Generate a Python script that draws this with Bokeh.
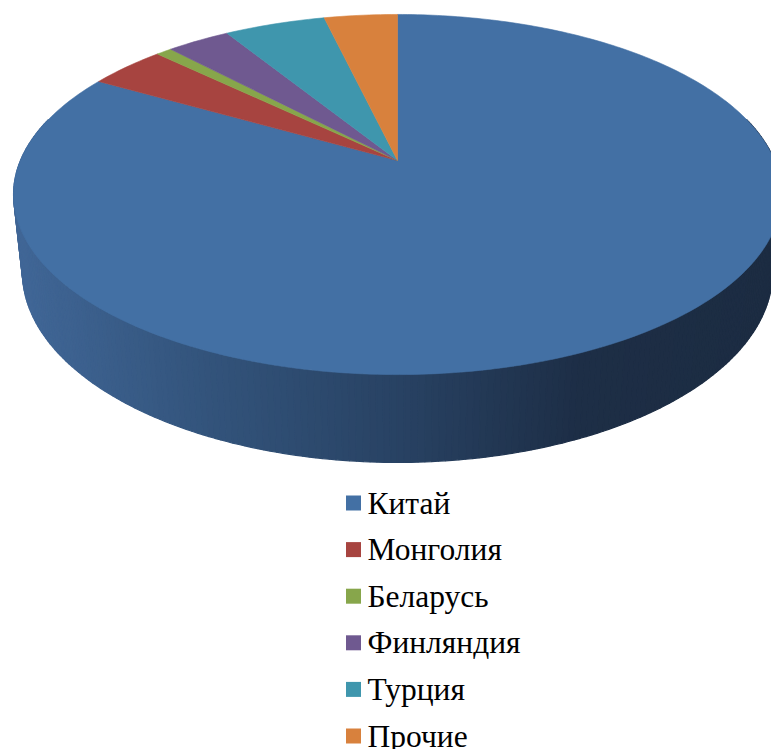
import numpy as np
from bokeh.plotting import figure
from bokeh.models import Range1d, ColumnDataSource
from bokeh.core.properties import value
from bokeh.embed import file_html
from bokeh.resources import INLINE

# ---- data ----
categories = ["Китай", "Монголия", "Беларусь", "Финляндия", "Турция", "Прочие"]
shares = [83.3, 3.9, 0.8, 3.2, 5.1, 3.7]
colors = ["#4370A4", "#A74440", "#87A64B", "#6F5990", "#3F96AD", "#D8813D"]

W, H = 771, 749
p = figure(width=W, height=H, output_backend="svg", toolbar_location=None,
           x_range=Range1d(0, W), y_range=Range1d(H, 0), min_border=0)
p.axis.visible = False
p.grid.visible = False
p.outline_line_color = None
p.background_fill_color = "white"
p.border_fill_color = "white"

# ---- 3D perspective projection of the pie disc ----
cx, cy = 397.0, 160.0
phi = np.arcsin(0.4605)
sphi, cphi = np.sin(phi), np.cos(phi)
r = 0.2129            # disc radius / camera distance
f = 1771.0            # focal length in px
hgt = 0.0497          # thickness / camera distance

def proj(theta, z=0.0):
    x = r * np.cos(theta)
    y = r * np.sin(theta)
    depth = 1.0 + y * cphi - z * sphi
    sx = cx + f * x / depth
    sy = cy - f * (y * sphi + z * cphi) / depth
    return sx, sy

# side wall (front part, belongs to first slice) with horizontal shading
stops_x = [0, 20, 200, 400, 580, 771]
stops_c = np.array([(64, 102, 150), (64, 102, 150), (51, 84, 124),
                    (40, 66, 99), (29, 46, 70), (28, 44, 66)], dtype=float)

def shade(xp):
    return "#%02x%02x%02x" % tuple(int(round(np.interp(xp, stops_x, stops_c[:, k]))) for k in range(3))

n = 240
th = np.linspace(np.pi - 0.25, 2 * np.pi + 0.25, n + 1)
sx_list, sy_list, sc = [], [], []
for i in range(n):
    a, b = th[i], th[i + 1]
    x1, y1 = proj(a, 0)
    x2, y2 = proj(b, 0)
    x3, y3 = proj(b, -hgt)
    x4, y4 = proj(a, -hgt)
    sx_list.append([x1, x2, x3, x4])
    sy_list.append([y1, y2, y3, y4])
    sc.append(shade((x1 + x2) / 2))
side = ColumnDataSource(dict(xs=sx_list, ys=sy_list, c=sc))
p.patches("xs", "ys", source=side, fill_color="c", line_color="c", line_width=1.2)

# top faces: start at 12 o'clock, clockwise
tot = float(sum(shares))
cum = np.concatenate([[0.0], np.cumsum(shares)]) / tot
xs, ys = [], []
for i in range(len(shares)):
    t0 = np.pi / 2 - cum[i] * 2 * np.pi
    t1 = np.pi / 2 - cum[i + 1] * 2 * np.pi
    m = max(4, int(abs(t1 - t0) / (2 * np.pi) * 400))
    tt = np.linspace(t0, t1, m)
    ax, ay = proj(tt, 0)
    xs.append([cx] + list(ax))
    ys.append([cy] + list(ay))
top = ColumnDataSource(dict(xs=xs, ys=ys, c=colors, name=categories))
p.patches("xs", "ys", source=top, fill_color="c", line_color="c", line_width=0.6)

# ---- legend ----
idx = np.arange(len(categories))
ly = 502.5 + idx * 46.6
leg = ColumnDataSource(dict(x=[353.0] * len(categories), y=ly,
                            tx=[367.0] * len(categories), label=categories, c=colors))
p.rect("x", "y", width=15, height=15, source=leg, fill_color="c", line_color=None)
p.text("tx", "y", text="label", source=leg, text_font=value("Liberation Serif"),
       text_font_size="31.5px", text_baseline="middle", text_align="left", text_color="#000000")

open("out.html", "w").write(file_html(p, INLINE))
